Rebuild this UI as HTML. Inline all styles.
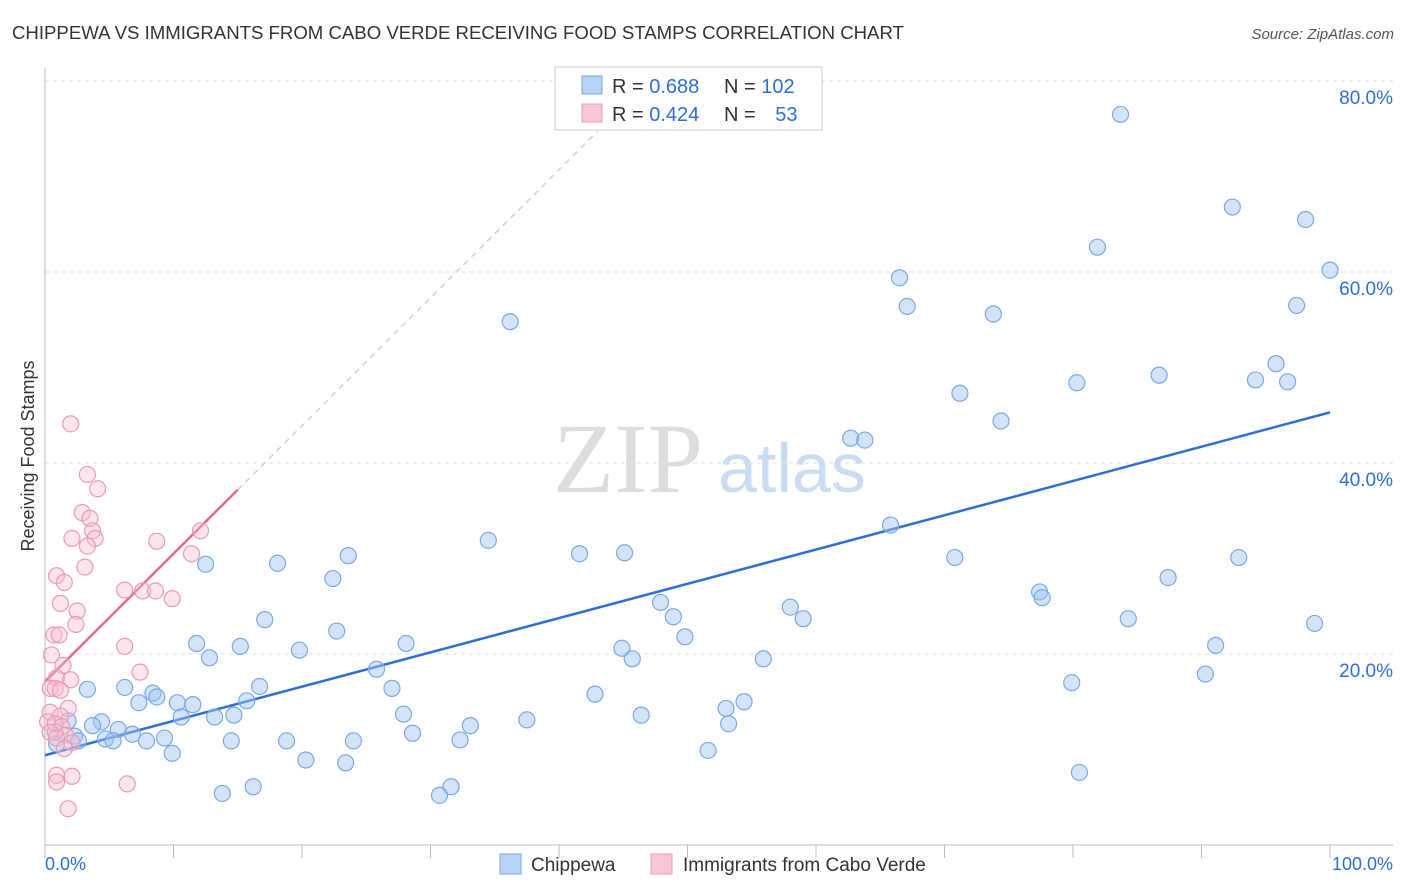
<!DOCTYPE html>
<html><head><meta charset="utf-8"><style>
body{margin:0;background:#fff;font-family:"Liberation Sans",sans-serif;}
svg{display:block}
</style></head><body>
<svg width="1406" height="892" id="chart">
<text x="12" y="39" font-size="18.6" fill="#333">CHIPPEWA VS IMMIGRANTS FROM CABO VERDE RECEIVING FOOD STAMPS CORRELATION CHART</text>
<text x="1394" y="39" font-size="15" fill="#555" font-style="italic" text-anchor="end">Source: ZipAtlas.com</text>
<text x="553" y="492" font-size="100" fill="#ddd" font-family="Liberation Serif,serif">ZIP</text>
<text x="718" y="492" font-size="70" fill="#c9dcf2">atlas</text>
<text transform="translate(34,456) rotate(-90)" font-size="18" fill="#333" text-anchor="middle">Receiving Food Stamps</text>
<g id="grid"></g><g id="axes"></g><g id="trends"></g><g id="pts"></g>
<g>
<rect x="555" y="67" width="267" height="63" fill="#fff" stroke="#ccc"/>
<rect x="582" y="76" width="20" height="18" fill="#b8d3f5" stroke="#7aa8e6"/>
<rect x="582" y="104" width="20" height="18" fill="#f9c6d5" stroke="#eb9ab3"/>
<text x="612" y="93" font-size="20" fill="#333">R = <tspan fill="#2e6fd6">0.688</tspan></text>
<text x="724" y="93" font-size="20" fill="#333">N = <tspan fill="#2e6fd6">102</tspan></text>
<text x="612" y="121" font-size="20" fill="#333">R = <tspan fill="#2e6fd6">0.424</tspan></text>
<text x="724" y="121" font-size="20" fill="#333">N = <tspan fill="#2e6fd6" dx="14">53</tspan></text>
</g>
<g>
<rect x="500" y="854" width="21" height="20" fill="#b8d3f5" stroke="#7aa8e6"/>
<text x="531" y="871" font-size="19" fill="#333">Chippewa</text>
<rect x="651" y="854" width="21" height="20" fill="#f9c6d5" stroke="#eb9ab3"/>
<text x="683" y="871" font-size="19" fill="#333">Immigrants from Cabo Verde</text>
</g>
</svg>
<script>
const blueX=[83.7,92.4,98.1,81.9,100,66.5,67.1,73.8,97.4,36.2,95.8,86.7,80.3,94.2,96.7,71.2,74.4,62.7,63.8,65.8,34.5,41.6,45.1,70.8,92.9,23.6,12.5,18.1,22.4,87.4,77.4,77.6,47.9,48.9,58.0,59.0,84.3,98.8,17.1,22.7,49.8,28.1,11.8,15.2,91.1,44.9,19.8,45.7,12.8,55.9,25.8,90.3,79.9,16.7,6.2,3.3,27.0,8.4,8.7,42.8,15.7,7.3,10.3,11.5,54.4,53.0,27.9,10.6,13.2,14.7,46.4,37.5,53.2,33.1,1.8,4.4,3.7,5.7,6.8,0.8,2.3,4.7,5.3,2.6,9.3,7.9,28.6,14.5,18.8,24.0,32.3,0.9,9.9,51.6,20.3,23.4,80.5,31.6,30.7,13.8,16.2];
const blueY=[76.5,66.8,65.5,62.6,60.2,59.4,56.4,55.6,56.5,54.8,50.4,49.2,48.4,48.7,48.5,47.3,44.4,42.6,42.4,33.5,31.9,30.5,30.6,30.1,30.1,30.3,29.4,29.5,27.9,28.0,26.5,25.9,25.4,23.9,24.9,23.7,23.7,23.2,23.6,22.4,21.8,21.1,21.1,20.8,20.9,20.6,20.4,19.5,19.6,19.5,18.4,17.9,17.0,16.6,16.5,16.3,16.4,15.9,15.5,15.8,15.1,14.9,14.9,14.7,15.0,14.3,13.7,13.4,13.4,13.6,13.6,13.1,12.7,12.5,13.0,12.9,12.5,12.1,11.6,11.8,11.4,11.1,10.9,10.9,11.2,10.9,11.7,10.9,10.9,10.9,11.0,10.6,9.6,9.9,8.9,8.6,7.6,6.1,5.2,5.4,6.1];
const pinkX=[2.0,3.3,4.1,2.9,3.5,3.7,3.9,2.1,3.3,8.7,12.1,11.4,3.1,0.9,1.5,6.2,7.6,8.6,9.9,1.2,2.5,2.4,0.7,1.1,6.2,0.5,1.4,7.4,0.9,2.0,0.4,0.8,1.2,1.8,0.4,1.2,0.2,0.8,1.3,0.4,1.6,0.9,2.1,1.5,0.9,2.1,0.9,6.4,1.8];
const pinkY=[44.1,38.8,37.3,34.8,34.2,32.9,32.1,32.1,31.3,31.8,32.9,30.5,29.1,28.2,27.5,26.7,26.6,26.6,25.8,25.3,24.5,23.1,22.0,22.0,20.8,19.9,18.8,18.1,17.5,17.3,16.4,16.4,16.2,14.3,13.9,13.5,12.9,12.7,12.4,11.8,11.5,11.2,10.7,10.1,7.3,7.2,6.6,6.4,3.8];
const blueTrend=[9.4,45.3];
const pinkTrend=[17.1,1.34];
const yTicks=[20,40,60,80];
const yTickLabels=["20.0%","40.0%","60.0%","80.0%"];
const xTicks=[0,10,20,30,40,50,60,70,80,90,100];
const NS="http://www.w3.org/2000/svg";
const sx=v=>45+v*12.85, sy=v=>845-v*9.55;
function mk(tag,attrs,parent){const e=document.createElementNS(NS,tag);for(const k in attrs)e.setAttribute(k,attrs[k]);document.getElementById(parent).appendChild(e);return e;}
yTicks.forEach((t,i)=>{
 const l=mk('line',{x1:45,x2:1393,y1:sy(t),y2:sy(t),stroke:'#ddd','stroke-dasharray':'4,4'},'grid');
 
 
 const tx=mk('text',{x:1393,y:sy(t)+23,'font-size':19,fill:'#2e6fd6','text-anchor':'end'},'grid');
 tx.textContent=yTickLabels[i];
 
 
});
const ya=mk('line',{x1:45,x2:45,y1:68,y2:845,stroke:'#bbb'},'axes');


const xa=mk('line',{x1:45,x2:1393,y1:845,y2:845,stroke:'#bbb'},'axes');


xTicks.forEach(t=>{const l=mk('line',{x1:sx(t),x2:sx(t),y1:845,y2:858,stroke:'#bbb'},'axes');
 
 });
[[0,"0.0%",'start',45],[100,"100.0%",'end',1393]].forEach(a=>{const t=mk('text',{x:a[3],y:870,'font-size':18,fill:'#2e6fd6','text-anchor':a[2]},'axes');t.textContent=a[1];
 
 });
blueX.forEach((x,i)=>{const c=mk('circle',{cx:sx(x),cy:sy(blueY[i]),r:8,fill:'rgba(160,196,240,0.45)',stroke:'#7aa8e6','stroke-width':1.2},'pts');
 
 });
pinkX.forEach((x,i)=>{const c=mk('circle',{cx:sx(x),cy:sy(pinkY[i]),r:8,fill:'rgba(249,190,208,0.4)',stroke:'#eb9ab3','stroke-width':1.2},'pts');
 
 });
const bt=mk('line',{x1:sx(0),y1:sy(blueTrend[0]),x2:sx(100),y2:sy(blueTrend[1]),stroke:'#2e6fd6','stroke-width':2.5},'trends');


const pe=15, pd=43;
const pt=mk('line',{x1:sx(0),y1:sy(pinkTrend[0]),x2:sx(pe),y2:sy(pinkTrend[0]+pinkTrend[1]*pe),stroke:'#e8678f','stroke-width':2.5},'trends');


const pdl=mk('line',{x1:sx(pe),y1:sy(pinkTrend[0]+pinkTrend[1]*pe),x2:sx(pd),y2:sy(pinkTrend[0]+pinkTrend[1]*pd),stroke:'#eeb3c5','stroke-width':1.2,'stroke-dasharray':'6,5'},'trends');


</script>
</body></html>
